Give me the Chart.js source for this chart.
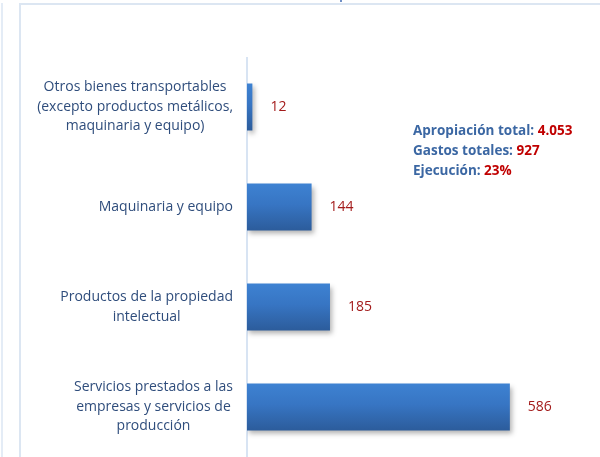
<!DOCTYPE html>
<html>
<head>
<meta charset="utf-8">
<script src="https://cdn.jsdelivr.net/npm/chart.js@4.4.1/dist/chart.umd.min.js"></script>
<style>
  html, body { margin: 0; padding: 0; background: #fff; }
  #wrap { position: relative; width: 600px; height: 457px; overflow: hidden; }
  #marco { position: absolute; left: 19px; top: 3px; right: -2px; bottom: -2px;
           border-top: 2px solid #dce6f2; border-left: 2px solid #dce6f2; }
  #borde { position: absolute; left: 1px; top: 3px; width: 2px; bottom: 0; background: #e4ecf6; }
  #marca { position: absolute; left: 340px; top: 0; width: 2px; height: 2px; background: #6f8fc6; }
  canvas { position: absolute; left: 0; top: 0; }
</style>
</head>
<body>
<div id="wrap">
  <div id="borde"></div>
  <div id="marco"></div>
  <div id="marca"></div>
  <canvas id="grafico" width="600" height="457"></canvas>
</div>
<script>
// Categorías (cada una partida en líneas como en el original)
const categorias = [
    ["Otros bienes transportables", "(excepto productos metálicos,", "maquinaria y equipo)"],
    ["Maquinaria y equipo"],
    ["Productos de la propiedad", "intelectual"],
    ["Servicios prestados a las", "empresas y servicios de", "producción"]
];
const valores = [12, 144, 185, 586];

// Resumen
const resumenEtiquetas = ["Apropiación total: ", "Gastos totales: ", "Ejecución: "];
const resumenValores = ["4.053", "927", "23%"];

const fuente = "'Open Sans', sans-serif";

// Etiquetas del eje y centradas por bloque
const etiquetasEje = {
    id: "etiquetasEje",
    afterDraw(chart) {
        const ctx = chart.ctx;
        const y = chart.scales.y;
        ctx.save();
        ctx.font = "14px " + fuente;
        ctx.fillStyle = "#2f4d7c";
        ctx.textAlign = "center";
        ctx.textBaseline = "middle";
        const alto = 19.5;
        categorias.forEach((lineas, i) => {
            const ancho = Math.max(...lineas.map((l) => ctx.measureText(l).width));
            const cx = 233 - ancho / 2;
            const cy = y.getPixelForValue(i);
            lineas.forEach((l, j) => {
                ctx.fillText(l, cx, cy + (j - (lineas.length - 1) / 2) * alto);
            });
        });
        ctx.restore();
    }
};

// Valores al lado de las barras
const valoresBarras = {
    id: "valoresBarras",
    afterDatasetsDraw(chart) {
        const ctx = chart.ctx;
        const meta = chart.getDatasetMeta(0);
        ctx.save();
        ctx.shadowColor = "transparent";
        ctx.font = "14px " + fuente;
        ctx.fillStyle = "#a31b1b";
        ctx.textAlign = "left";
        ctx.textBaseline = "middle";
        meta.data.forEach((barra, i) => {
            ctx.fillText(String(valores[i]), barra.x + 18, barra.y);
        });
        ctx.restore();
    }
};

// Degradado, sombra de las barras y línea del eje
const sombra = {
    id: "sombra",
    beforeDatasetsDraw(chart) {
        const ctx = chart.ctx;
        const x0 = chart.scales.x.getPixelForValue(0);
        ctx.save();
        ctx.strokeStyle = "#d8e4f3";
        ctx.lineWidth = 2;
        ctx.beginPath();
        ctx.moveTo(x0, chart.chartArea.top);
        ctx.lineTo(x0, chart.chartArea.bottom);
        ctx.stroke();
        ctx.restore();

        chart.getDatasetMeta(0).data.forEach((barra) => {
            const h = barra.height / 2;
            const g = ctx.createLinearGradient(0, barra.y - h, 0, barra.y + h);
            g.addColorStop(0, "#3e82d2");
            g.addColorStop(0.45, "#3775c3");
            g.addColorStop(1, "#2c5c9b");
            barra.options.backgroundColor = g;
        });

        ctx.save();
        ctx.shadowColor = "rgba(0,0,0,0.3)";
        ctx.shadowBlur = 5;
        ctx.shadowOffsetX = 2;
        ctx.shadowOffsetY = 3;
    },
    afterDatasetsDraw(chart) {
        chart.ctx.restore();
    }
};

// Cuadro de resumen
const resumen = {
    id: "resumen",
    afterDraw(chart) {
        const ctx = chart.ctx;
        ctx.save();
        ctx.font = "bold 13.5px " + fuente;
        ctx.textBaseline = "middle";
        ctx.textAlign = "left";
        resumenEtiquetas.forEach((t, i) => {
            const yy = 131 + i * 20;
            ctx.fillStyle = "#3b67a3";
            ctx.fillText(t, 413, yy);
            const w = ctx.measureText(t).width;
            ctx.fillStyle = "#c00000";
            ctx.fillText(resumenValores[i], 413 + w, yy);
        });
        ctx.restore();
    }
};

const ctx = document.getElementById("grafico").getContext("2d");
const grafico = new Chart(ctx, {
    type: "bar",
    data: {
        labels: categorias,
        datasets: [
            {
                data: valores,
                backgroundColor: () => "#3570b8",
                borderWidth: 0,
                barPercentage: 0.47,
                categoryPercentage: 1,
            },
        ],
    },
    options: {
        indexAxis: "y",
        responsive: false,
        animation: false,
        events: [],
        layout: {
            padding: { left: 247, right: 39, top: 57, bottom: 0 },
        },
        plugins: {
            legend: { display: false },
            tooltip: { enabled: false },
        },
        scales: {
            x: { display: false, min: 0, max: 700 },
            y: { display: false },
        },
    },
    plugins: [sombra, valoresBarras, etiquetasEje, resumen],
});
</script>
</body>
</html>
